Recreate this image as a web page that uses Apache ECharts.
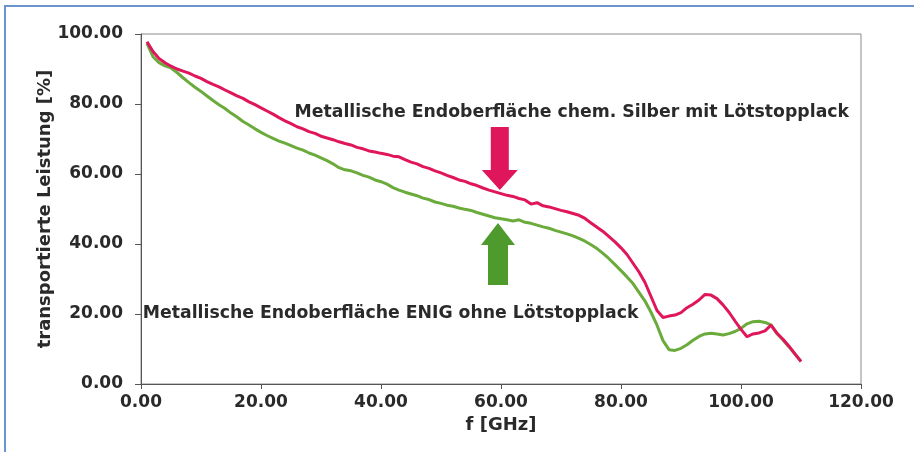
<!DOCTYPE html>
<html><head><meta charset="utf-8">
<script src="https://cdn.jsdelivr.net/npm/echarts@6/dist/echarts.min.js"></script>
<style>html,body{margin:0;padding:0;background:#fff}#c{width:914px;height:452px}</style>
</head><body><div id="c"></div>
<script>
const freq = [1,2,3,4,5,6,7,8,9,10,11,12,13,14,15,16,17,18,19,20,21,22,23,24,25,26,27,28,29,30,31,32,33,34,35,36,37,38,39,40,41,42,43,44,45,46,47,48,49,50,51,52,53,54,55,56,57,58,59,60,61,62,63,64,65,66,67,68,69,70,71,72,73,74,75,76,77,78,79,80,81,82,83,84,85,86,87,88,89,90,91,92,93,94,95,96,97,98,99,100,101,102,103,104,105,106,107,108,109,110];
const silber = [97.8,95.0,93.0,91.8,90.8,90.0,89.4,88.8,88.0,87.3,86.4,85.6,84.9,84.0,83.2,82.3,81.6,80.6,79.8,78.9,78.0,77.1,76.1,75.2,74.4,73.5,72.9,72.1,71.6,70.8,70.3,69.8,69.2,68.7,68.3,67.6,67.2,66.6,66.3,65.9,65.6,65.1,64.9,64.1,63.4,62.9,62.1,61.6,60.9,60.3,59.6,59.0,58.3,57.9,57.2,56.7,56.0,55.4,54.9,54.4,53.9,53.6,53.0,52.6,51.4,51.8,50.9,50.6,50.1,49.6,49.2,48.7,48.2,47.3,46.0,44.8,43.6,42.1,40.6,38.9,37.0,34.5,32.0,29.0,25.0,21.0,19.0,19.4,19.7,20.4,21.8,22.8,24.0,25.6,25.4,24.4,22.6,20.5,18.0,15.6,13.5,14.3,14.6,15.2,16.8,14.5,12.8,10.8,8.6,6.4];
const enig = [97.3,93.5,91.8,90.9,90.3,89.0,87.5,86.1,84.8,83.6,82.3,81.0,79.8,78.7,77.4,76.3,75.0,74.0,72.9,71.9,71.0,70.2,69.4,68.8,68.1,67.4,66.8,66.0,65.4,64.6,63.8,62.9,61.8,61.2,60.9,60.3,59.6,59.1,58.3,57.8,57.1,56.1,55.4,54.8,54.3,53.8,53.1,52.7,52.0,51.6,51.1,50.8,50.3,49.9,49.6,49.0,48.5,48.0,47.5,47.2,46.9,46.6,46.9,46.2,45.9,45.4,44.9,44.5,43.9,43.4,42.9,42.3,41.6,40.8,39.8,38.7,37.3,35.8,34.1,32.4,30.6,28.7,26.2,23.7,20.5,16.8,12.4,9.8,9.6,10.2,11.2,12.5,13.6,14.3,14.5,14.3,14.0,14.4,15.0,15.9,17.2,17.8,17.9,17.6,16.9,14.4,12.6,10.6,8.5,6.5];
const xTicks = [0,20,40,60,80,100,120];
const yTicks = [0,20,40,60,80,100];
const labelSilber = 'Metallische Endoberfläche chem. Silber mit Lötstopplack';
const labelEnig = 'Metallische Endoberfläche ENIG ohne Lötstopplack';
const xName = 'f [GHz]';
const yName = 'transportierte Leistung [%]';

const FONT = '"DejaVu Sans", sans-serif';
const TXT = '#2a2a2a';
const RED = '#e0165c';
const GREEN = '#6aab3c';
const chart = echarts.init(document.getElementById('c'), null, {renderer:'canvas'});
const pairs = (ys) => freq.map((f,i)=>[f, ys[i]]);
chart.setOption({
  animation:false,
  backgroundColor:'#fff',
  grid:{left:141,right:53,top:34,bottom:68,show:true,borderColor:'#8a8a8a',borderWidth:1},
  xAxis:{type:'value',min:xTicks[0],max:xTicks[xTicks.length-1],interval:20,
    name:xName,nameLocation:'middle',nameGap:32,nameMoveOverlap:false,
    nameTextStyle:{fontFamily:FONT,fontWeight:'bold',fontSize:18,color:TXT},
    axisLine:{lineStyle:{color:'#555',width:1}},
    axisTick:{show:true,length:5,lineStyle:{color:'#555'}},
    axisLabel:{fontFamily:FONT,fontWeight:'bold',fontSize:17,color:TXT,margin:10,formatter:v=>v.toFixed(2)},
    splitLine:{show:false}},
  yAxis:{type:'value',min:yTicks[0],max:yTicks[yTicks.length-1],interval:20,
    name:yName,nameLocation:'middle',nameGap:87,nameRotate:90,nameMoveOverlap:false,
    nameTextStyle:{fontFamily:FONT,fontWeight:'bold',fontSize:18,color:TXT},
    axisLine:{show:true,lineStyle:{color:'#555',width:1}},
    axisTick:{show:true,length:6,lineStyle:{color:'#555'}},
    axisLabel:{fontFamily:FONT,fontWeight:'bold',fontSize:17,color:TXT,margin:18,formatter:v=>v.toFixed(2)},
    splitLine:{show:false}},
  series:[
    {type:'line',name:'ENIG',data:pairs(enig),showSymbol:false,lineStyle:{color:GREEN,width:3},z:2},
    {type:'line',name:'Silber',data:pairs(silber),showSymbol:false,lineStyle:{color:RED,width:3},z:3}
  ]
});
const P = (f,v)=>chart.convertToPixel({gridIndex:0},[f,v]);
const rt = P(59.8,55.4);   // red arrow tip
const gt = P(59.5,46.0);   // green arrow tip
const st = P(71.8,77.7);   // silber label centre
const et = P(0.3,20.0);    // enig label left
const downArrow = (x,y)=>[[x,y],[x-18,y-20],[x-9,y-20],[x-9,y-63],[x+9,y-63],[x+9,y-20],[x+18,y-20]];
const upArrow = (x,y)=>[[x,y],[x-17,y+22],[x-10,y+22],[x-10,y+62],[x+10,y+62],[x+10,y+22],[x+17,y+22]];
chart.setOption({graphic:[
  {type:'rect',shape:{x:5,y:6,width:1000,height:1000},style:{fill:'none',stroke:'#6a95cc',lineWidth:2},z:0,silent:true},
  {type:'polygon',shape:{points:downArrow(rt[0],rt[1])},style:{fill:RED},z:10},
  {type:'polygon',shape:{points:upArrow(gt[0],gt[1])},style:{fill:'#4f9a2c'},z:10},
  {type:'text',x:st[0],y:st[1],style:{text:labelSilber,fontFamily:FONT,fontWeight:'bold',fontSize:17.3,fill:TXT,align:'center',verticalAlign:'middle'},z:10},
  {type:'text',x:et[0],y:et[1],style:{text:labelEnig,fontFamily:FONT,fontWeight:'bold',fontSize:17.3,fill:TXT,align:'left',verticalAlign:'middle'},z:10}
]});
</script></body></html>
